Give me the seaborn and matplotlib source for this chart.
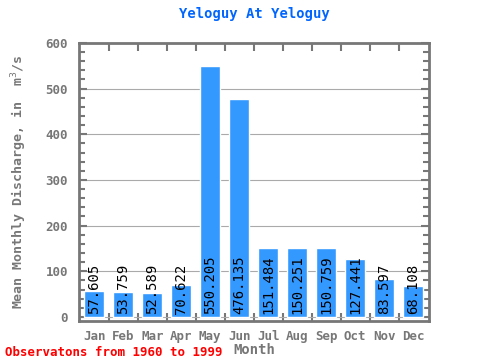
import matplotlib
matplotlib.use("Agg")
import matplotlib.pyplot as plt
import seaborn as sns
import pandas as pd
from matplotlib.ticker import MultipleLocator

months = ["Jan", "Feb", "Mar", "Apr", "May", "Jun", "Jul", "Aug", "Sep", "Oct", "Nov", "Dec"]
discharge = [57.605, 53.759, 52.589, 70.622, 550.205, 476.135, 151.484, 150.251, 150.759, 127.441, 83.597, 68.108]
value_labels = ["57.605", "53.759", "52.589", "70.622", "550.205", "476.135", "151.484", "150.251", "150.759", "127.441", "83.597", "68.108"]

df = pd.DataFrame({"Month": months, "Discharge": discharge})

sns.set_style("white")
plt.rcParams['font.family'] = ['DejaVu Sans Mono']
gray = "#777777"

fig = plt.figure(figsize=(4.8, 3.6), dpi=100)
ax = fig.add_axes([0.165, 0.108, 0.729, 0.773])
sns.barplot(data=df, x="Month", y="Discharge", color="#3399ff", saturation=1, width=0.69, ax=ax, zorder=2)

ax.set_xlim(-0.52, 11.55)
ax.set_ylim(-9, 600)
ax.yaxis.set_major_locator(MultipleLocator(100))
ax.yaxis.set_minor_locator(MultipleLocator(20))
ax.grid(axis="y", color="#aaaaaa", linewidth=0.8, zorder=0)
ax.set_axisbelow(True)

for sp in ax.spines.values():
    sp.set_color(gray)
    sp.set_linewidth(2)

# boundary ticks on top and bottom
ax.set_xticks([i + 0.5 for i in range(11)], minor=True)
ax.tick_params(axis="x", which="minor", direction="in", top=True, bottom=True, length=6, width=1.5, color=gray)

ax.tick_params(axis="y", which="both", direction="in", left=True, right=True, color=gray, width=1.5, labelcolor=gray, labelsize=9, pad=8)
ax.tick_params(axis="y", which="major", length=6)
ax.tick_params(axis="y", which="minor", length=4)
ax.tick_params(axis="x", which="major", bottom=False, labelcolor=gray, labelsize=9, pad=3)
for lab in ax.get_xticklabels() + ax.get_yticklabels():
    lab.set_fontweight("bold")

for i, lab in enumerate(value_labels):
    ax.annotate(lab, xy=(i, 0), xytext=(0, 2), textcoords="offset points",
                rotation=90, ha="center", va="bottom", fontsize=10, color="black", zorder=3)

ax.set_xlabel("Month", color=gray, fontsize=10, fontweight="bold", labelpad=0)
ax.set_ylabel("Mean Monthly Discharge, in  m$^3$/s", color=gray, fontsize=9.5, fontweight="bold", labelpad=12)
ax.set_title("Yeloguy At Yeloguy", color="#0066ff", fontsize=10, fontweight="bold", pad=18)
fig.text(0.01, 0.012, "Observatons from 1960 to 1999", color="red", fontsize=9, fontweight="bold")

fig.savefig("out.png", dpi=100)
